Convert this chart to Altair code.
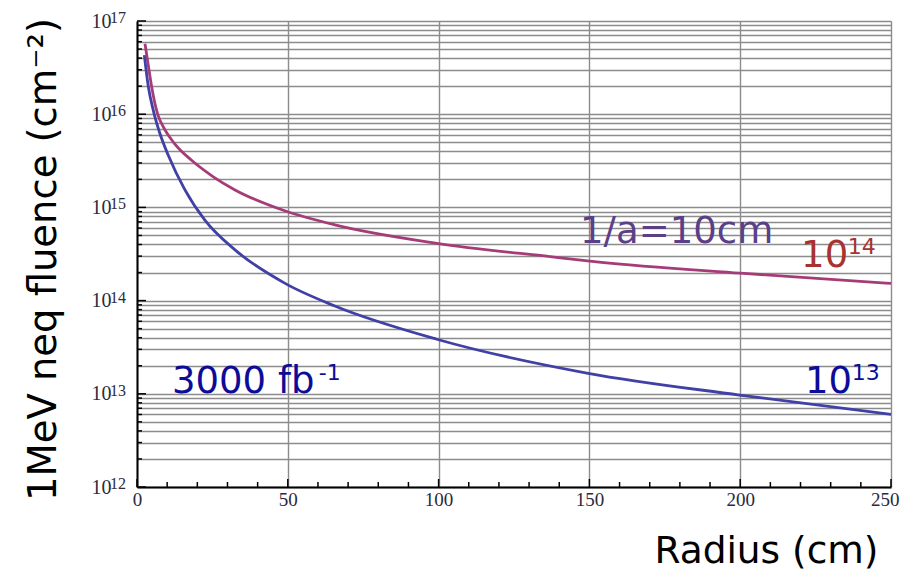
import altair as alt
import pandas as pd

# ---- data ----
magenta_r = [2.65, 3.98, 4.86, 6.85, 8.73, 12.3, 18.1, 25.3, 32.5, 49.0, 65.6, 99.4, 137.0, 152.4, 200.0, 250.0]
magenta_f = [5.7e16, 2.98e16, 1.97e16, 1.0e16, 7.3e15, 4.9e15, 3.2e15, 2.13e15, 1.54e15, 9.2e14,
             6.5e14, 4.12e14, 2.96e14, 2.61e14, 1.97e14, 1.53e14]
blue_r = [2.43, 3.76, 5.4, 7.6, 10.4, 15.9, 22.5, 32.5, 49.1, 65.6, 99.4, 149.6, 199.7, 250.0]
blue_f = [4.3e16, 1.97e16, 1.1e16, 6.2e15, 3.6e15, 1.54e15, 7.3e14, 3.5e14, 1.53e14, 8.75e13,
          3.85e13, 1.66e13, 9.7e12, 6.0e12]

series_names = ["1/a=10cm", "3000 fb-1"]
series_colors = ["#a53c78", "#4040a6"]

x_major = [0, 50, 100, 150, 200, 250]
x_minor = [10, 20, 30, 40, 60, 70, 80, 90, 110, 120, 130, 140, 160, 170, 180, 190,
           210, 220, 230, 240]
y_decades = [1e12, 1e13, 1e14, 1e15, 1e16, 1e17]
y_exponents = ["12", "13", "14", "15", "16", "17"]
y_minor = [k * 10.0 ** n for n in range(12, 17) for k in range(2, 10)]

# annotation base texts and their superscripts (anchored at their left / baseline)
ann_text = ["1/a=10cm", "10", "3000 fb", "10"]
ann_r = [146.9, 220.2, 11.6, 221.5]
ann_f = [4.15e14, 2.30e14, 1.02e13, 1.02e13]
ann_color = ["#5b3f88", "#a8322e", "#0c0c98", "#0c0c98"]

sup_text = ["14", "-1", "13"]
sup_r = [235.7, 60.3, 237.0]
sup_f = [3.16e14, 1.41e13, 1.41e13]
sup_color = ["#a8322e", "#0c0c98", "#0c0c98"]

# ---- tables ----
curves = pd.concat([
    pd.DataFrame({"r": magenta_r, "f": magenta_f, "s": series_names[0]}),
    pd.DataFrame({"r": blue_r, "f": blue_f, "s": series_names[1]}),
])
ann = pd.DataFrame({"t": ann_text, "r": ann_r, "f": ann_f, "c": ann_color})
sup = pd.DataFrame({"t": sup_text, "r": sup_r, "f": sup_f, "c": sup_color})
exps = pd.DataFrame({"f": y_decades, "e": y_exponents})

W, H = 754, 466
xs = alt.Scale(domain=[0, 250], nice=False, zero=False)
ys = alt.Scale(type="log", domain=[1e12, 1e17], nice=False)

grid_vals = sorted(y_decades + y_minor)
dec_str = "[" + ",".join(repr(v) for v in y_decades) + "]"
label_expr = f"indexof({dec_str}, datum.value) >= 0 ? '10' : ''"

LABEL_COLOR = "#2a2a40"

x_axis = alt.Axis(
    values=x_major, grid=True, gridColor="#8c8c8c", gridWidth=1.4, ticks=False,
    domainColor="black", domainWidth=2, labelFont="Liberation Serif", labelFontSize=19,
    labelColor=LABEL_COLOR, labelPadding=3, labelFlush=False, labelOverlap=False,
    labelAlign={"condition": {"test": "datum.value == 250", "value": "right"}, "value": "center"},
    labelOffset={"condition": {"test": "datum.value == 250", "value": 8}, "value": 0},
    title="Radius (cm)", titleFont="DejaVu Sans", titleFontSize=37.5, titleFontWeight="normal",
    titleColor="black", titleX=741, titleY=75, titleAlign="right", titleBaseline="alphabetic",
)
y_axis = alt.Axis(
    values=grid_vals, grid=True, gridColor="#8c8c8c", gridWidth=1.4, ticks=False,
    domainColor="black", domainWidth=2, labelFont="Liberation Serif", labelFontSize=20,
    labelColor=LABEL_COLOR, labelPadding=26, labelOverlap=False, labelExpr=label_expr,
    title="1MeV neq fluence (cm⁻²)", titleFont="DejaVu Sans", titleFontSize=38.5,
    titleFontWeight="normal", titleColor="black", titleAngle=270, titleX=-82, titleY=238,
    titleAlign="center", titleBaseline="alphabetic",
)

lines = alt.Chart(curves).mark_line(interpolate="monotone", strokeWidth=2.8).encode(
    x=alt.X("r:Q", scale=xs, axis=x_axis),
    y=alt.Y("f:Q", scale=ys, axis=y_axis),
    color=alt.Color("s:N", scale=alt.Scale(domain=series_names, range=series_colors), legend=None),
    detail="s:N",
)

def xticks(vals, length):
    return alt.Chart(pd.DataFrame({"r": vals})).mark_rule(color="black", strokeWidth=1.5).encode(
        x=alt.X("r:Q", scale=xs, axis=x_axis), y=alt.value(H), y2=alt.value(H - length))

def yticks(vals, length):
    return alt.Chart(pd.DataFrame({"f": vals})).mark_rule(color="black", strokeWidth=1.5).encode(
        y=alt.Y("f:Q", scale=ys, axis=y_axis), x=alt.value(0), x2=alt.value(length))

# superscript exponents of the y tick labels
exp_text = alt.Chart(exps).mark_text(font="Liberation Serif", fontSize=16, align="left",
                                     baseline="alphabetic", dy=2, color=LABEL_COLOR).encode(
    y=alt.Y("f:Q", scale=ys, axis=y_axis), x=alt.value(-27), text="e:N")

def text_layer(df, size):
    return alt.Chart(df).mark_text(font="DejaVu Sans", fontSize=size, align="left",
                                   baseline="alphabetic").encode(
        x=alt.X("r:Q", scale=xs, axis=x_axis),
        y=alt.Y("f:Q", scale=ys, axis=y_axis),
        text="t:N",
        color=alt.Color("c:N", scale=None),
    )

chart = alt.layer(
    lines, xticks(x_major, 8), xticks(x_minor, 5), yticks(y_decades, 9), yticks(y_minor, 5),
    exp_text, text_layer(ann, 37), text_layer(sup, 22)
).properties(
    width=W, height=H,
    autosize=alt.AutoSizeParams(type="none"),
    padding={"left": 129, "top": 13, "right": 9, "bottom": 84},
).configure_view(stroke=None)

chart.save("out.html", embed_options={"renderer": "svg", "actions": False})
